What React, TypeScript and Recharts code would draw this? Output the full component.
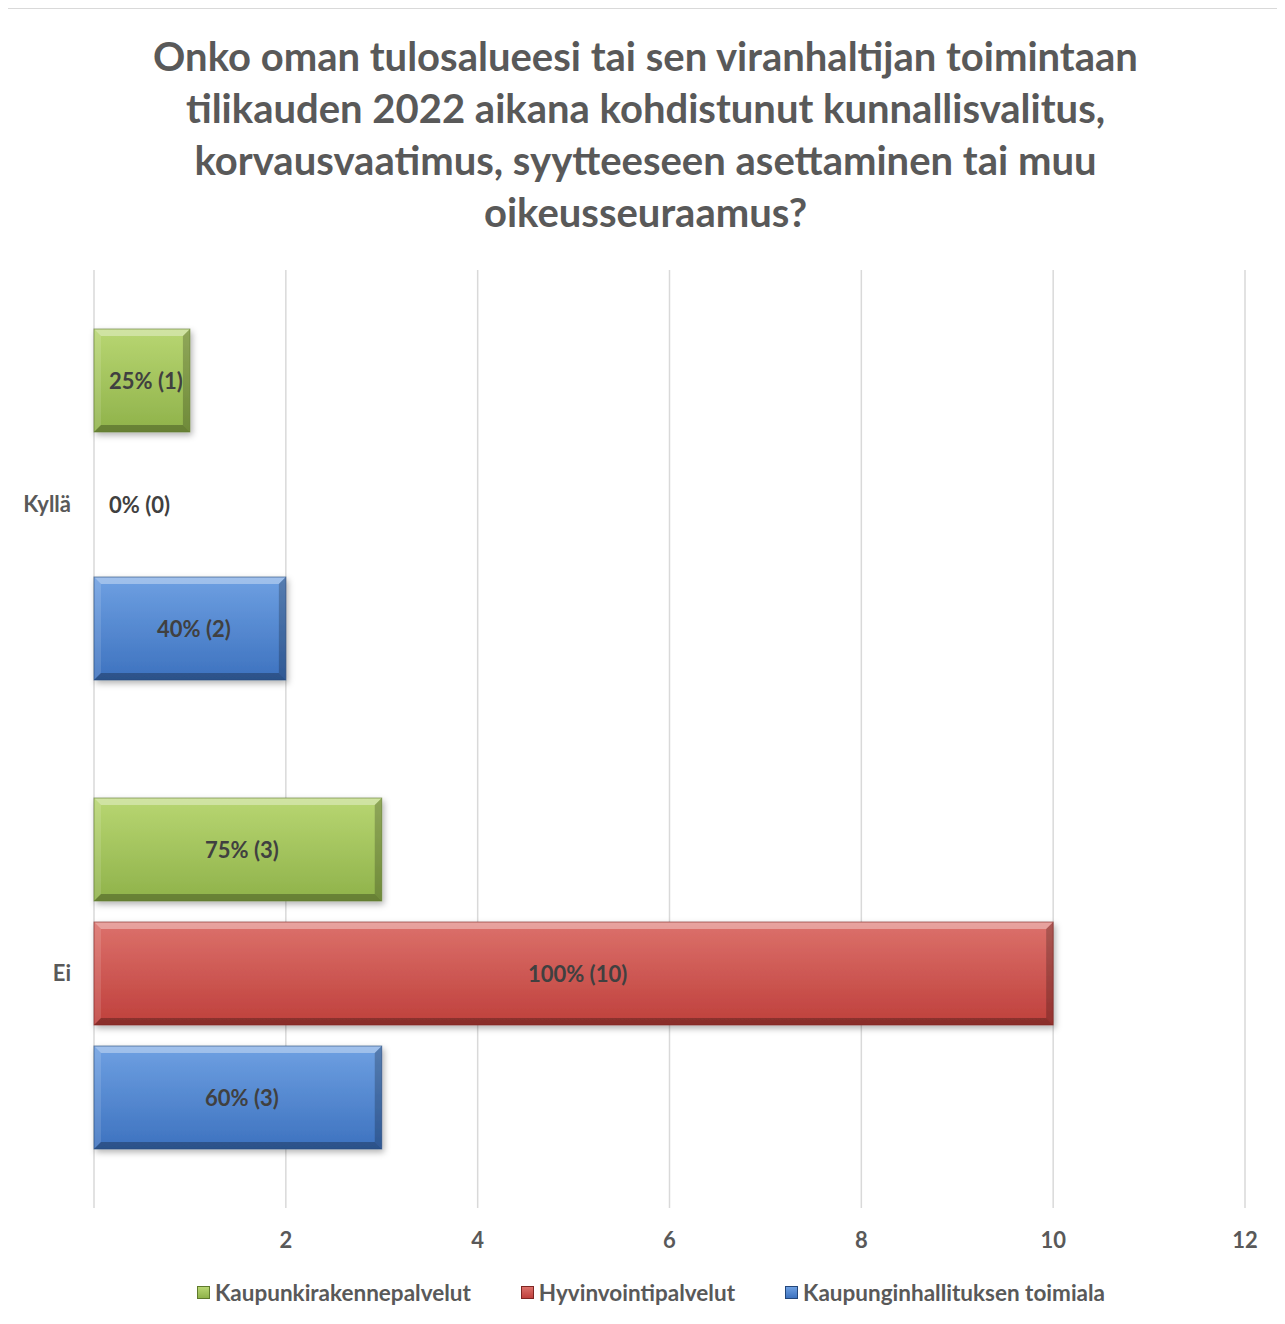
import React from 'react';
import { BarChart, Bar, XAxis, YAxis, CartesianGrid, LabelList } from 'recharts';

const categories = ['Kyllä', 'Ei'];
const seriesNames = ['Kaupunkirakennepalvelut', 'Hyvinvointipalvelut', 'Kaupunginhallituksen toimiala'];
const kaupunkirakenne = [1, 3];
const kaupunkirakennePct = [25, 75];
const hyvinvointi = [0, 10];
const hyvinvointiPct = [0, 100];
const kaupunginhallitus = [2, 3];
const kaupunginhallitusPct = [40, 60];
const xTicks = [0, 2, 4, 6, 8, 10, 12];
const titleLines = [
  'Onko oman tulosalueesi tai sen viranhaltijan toimintaan',
  'tilikauden 2022 aikana kohdistunut kunnallisvalitus,',
  'korvausvaatimus, syytteeseen asettaminen tai muu',
  'oikeusseuraamus?',
];

const FONT = 'Lato, "Open Sans", sans-serif';

const data = categories.map((c, i) => ({
  cat: c,
  krp: kaupunkirakenne[i],
  krpLabel: `${kaupunkirakennePct[i]}% (${kaupunkirakenne[i]})`,
  hvp: hyvinvointi[i],
  hvpLabel: `${hyvinvointiPct[i]}% (${hyvinvointi[i]})`,
  kht: kaupunginhallitus[i],
  khtLabel: `${kaupunginhallitusPct[i]}% (${kaupunginhallitus[i]})`,
}));

const palettes = [
  { id: 'gGreen', top: '#b8d672', bottom: '#8fb24a', edge: '#5f7a2c' },
  { id: 'gRed', top: '#dc716b', bottom: '#bf403c', edge: '#7e2623' },
  { id: 'gBlue', top: '#6ea0e2', bottom: '#3d72bf', edge: '#24477a' },
];

const makeShape = (p: typeof palettes[number]) => (props: any) => {
  const { x, y, width, height } = props;
  if (!width || width <= 0 || !height) return <g />;
  const w = width, h = height;
  const b = Math.min(7, w / 2, h / 2);
  return (
    <g filter="url(#barShadow)">
      <rect x={x} y={y} width={w} height={h} fill={`url(#${p.id})`} />
      <polygon points={`${x},${y} ${x + w},${y} ${x + w - b},${y + b} ${x + b},${y + b}`} fill="#ffffff" fillOpacity={0.35} />
      <polygon points={`${x},${y} ${x + b},${y + b} ${x + b},${y + h - b} ${x},${y + h}`} fill="#ffffff" fillOpacity={0.12} />
      <polygon points={`${x + w},${y} ${x + w},${y + h} ${x + w - b},${y + h - b} ${x + w - b},${y + b}`} fill="#000000" fillOpacity={0.22} />
      <polygon points={`${x},${y + h} ${x + w},${y + h} ${x + w - b},${y + h - b} ${x + b},${y + h - b}`} fill="#000000" fillOpacity={0.28} />
      <rect x={x} y={y} width={w} height={h} fill="none" stroke={p.edge} strokeOpacity={0.6} strokeWidth={1} />
    </g>
  );
};

const renderLabel = (props: any) => {
  const vb = props.viewBox || props;
  const x = vb.x ?? props.x;
  const y = vb.y ?? props.y;
  const width = vb.width ?? props.width ?? 0;
  const height = vb.height ?? props.height ?? 0;
  const zero = !width || width < 2;
  return (
    <text
      x={zero ? x + 15 : x + width / 2 + 4}
      y={y + height / 2}
      textAnchor={zero ? 'start' : 'middle'}
      dominantBaseline="central"
      fill="#404040"
      fontFamily={FONT}
      fontWeight={700}
      fontSize={22}
    >
      {props.value}
    </text>
  );
};

const keys = [
  { key: 'krp', label: 'krpLabel' },
  { key: 'hvp', label: 'hvpLabel' },
  { key: 'kht', label: 'khtLabel' },
];

export default function App() {
  return (
    <div style={{ position: 'relative', margin: -8, width: 1285, height: 1324, background: '#fff', overflow: 'hidden', fontFamily: FONT }}>
      <div style={{ position: 'absolute', left: 6, top: 8, right: -20, bottom: -20, border: '1px solid #d9d9d9' }} />
      <div style={{ position: 'absolute', left: 6, right: 0, top: 30, textAlign: 'center', color: '#595959', fontWeight: 700, fontSize: 40, lineHeight: '52px' }}>
        {titleLines.map((l, i) => (
          <div key={i}>{l}</div>
        ))}
      </div>
      <div style={{ position: 'absolute', left: 0, top: 0 }}>
        <BarChart
          width={1285}
          height={1324}
          data={data}
          layout="vertical"
          margin={{ top: 270, right: 40, bottom: 86, left: 0 }}
          barSize={103}
          barGap={21}
        >
          <defs>
            {palettes.map((p) => (
              <linearGradient key={p.id} id={p.id} x1="0" y1="0" x2="0" y2="1">
                <stop offset="0%" stopColor={p.top} />
                <stop offset="100%" stopColor={p.bottom} />
              </linearGradient>
            ))}
            <filter id="barShadow" x="-10%" y="-20%" width="130%" height="150%">
              <feDropShadow dx={2} dy={3} stdDeviation={3} floodColor="#000" floodOpacity={0.3} />
            </filter>
          </defs>
          <CartesianGrid horizontal={false} stroke="#d9d9d9" strokeWidth={1.5} />
          <XAxis
            type="number"
            domain={[0, 12]}
            ticks={xTicks}
            height={30}
            axisLine={false}
            tickLine={false}
            tickSize={0}
            tickMargin={24}
            tickFormatter={(v: number) => (v === 0 ? '' : String(v))}
            tick={{ fill: '#595959', fontFamily: FONT, fontWeight: 700, fontSize: 22 }}
          />
          <YAxis
            type="category"
            dataKey="cat"
            width={94}
            axisLine={false}
            tickLine={false}
            tickSize={0}
            tickMargin={23}
            tick={{ fill: '#595959', fontFamily: FONT, fontWeight: 700, fontSize: 22 }}
          />
          {keys.map((k, i) => (
            <Bar key={k.key} dataKey={k.key} name={seriesNames[i]} isAnimationActive={false} shape={makeShape(palettes[i])}>
              <LabelList dataKey={k.label} content={renderLabel} />
            </Bar>
          ))}
        </BarChart>
      </div>
      <div style={{ position: 'absolute', left: 17, width: 1268, top: 1279, display: 'flex', justifyContent: 'center', gap: 50, color: '#595959', fontWeight: 700, fontSize: 22.5 }}>
        {seriesNames.map((n, i) => (
          <div key={n} style={{ display: 'flex', alignItems: 'center', gap: 5 }}>
            <span style={{ display: 'inline-block', width: 11, height: 11, background: `linear-gradient(${palettes[i].top}, ${palettes[i].bottom})`, border: `1px solid ${palettes[i].edge}` }} />
            <span>{n}</span>
          </div>
        ))}
      </div>
    </div>
  );
}
